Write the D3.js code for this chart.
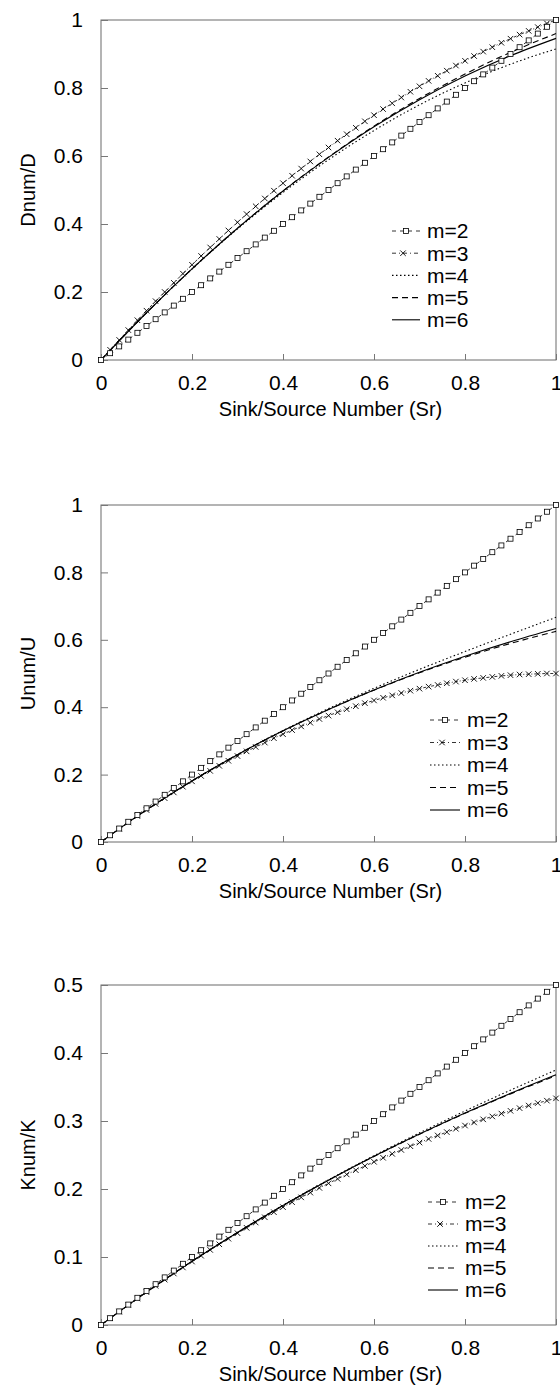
<!DOCTYPE html>
<html><head><meta charset="utf-8">
<script src="https://cdn.jsdelivr.net/npm/d3@7"></script>
<style>
body{margin:0;background:#fff;}
svg{display:block;}
text{font-family:Arial,"Liberation Sans",sans-serif;fill:#000;}
</style>
</head><body>
<svg id="c" width="560" height="1394"></svg>
<script>
// ---------- DATA ----------
const srMarkers = [0,0.02,0.04,0.06,0.08,0.10,0.12,0.14,0.16,0.18,0.20,0.22,0.24,0.26,0.28,0.30,0.32,0.34,0.36,0.38,0.40,0.42,0.44,0.46,0.48,0.50,0.52,0.54,0.56,0.58,0.60,0.62,0.64,0.66,0.68,0.70,0.72,0.74,0.76,0.78,0.80,0.82,0.84,0.86,0.88,0.90,0.92,0.94,0.96,0.98,1.00];
const srLines = [0,0.1,0.2,0.3,0.4,0.5,0.6,0.7,0.8,0.9,1.0];
const seriesNames = ["m=2","m=3","m=4","m=5","m=6"];

// Dnum/D
const dM2 = [0,0.02,0.04,0.06,0.08,0.10,0.12,0.14,0.16,0.18,0.20,0.22,0.24,0.26,0.28,0.30,0.32,0.34,0.36,0.38,0.40,0.42,0.44,0.46,0.48,0.50,0.52,0.54,0.56,0.58,0.60,0.62,0.64,0.66,0.68,0.70,0.72,0.74,0.76,0.78,0.80,0.82,0.84,0.86,0.88,0.90,0.92,0.94,0.96,0.98,1.00];
const dM3 = [0,0.030,0.059,0.088,0.117,0.145,0.173,0.200,0.227,0.254,0.280,0.306,0.331,0.356,0.381,0.405,0.429,0.452,0.475,0.498,0.520,0.542,0.563,0.584,0.605,0.625,0.645,0.664,0.683,0.702,0.720,0.738,0.755,0.772,0.789,0.805,0.821,0.836,0.851,0.866,0.880,0.894,0.907,0.920,0.933,0.945,0.957,0.968,0.979,0.990,1.000];
const dM4 = [0,0.139,0.2675,0.3855,0.4928,0.589,0.675,0.7505,0.815,0.870,0.915];
const dM5 = [0,0.139,0.268,0.3876,0.4974,0.5969,0.6879,0.7691,0.8411,0.9048,0.960];
const dM6 = [0,0.139,0.268,0.3875,0.497,0.596,0.686,0.7655,0.835,0.895,0.946];

// Unum/U
const uM2 = [0,0.02,0.04,0.06,0.08,0.10,0.12,0.14,0.16,0.18,0.20,0.22,0.24,0.26,0.28,0.30,0.32,0.34,0.36,0.38,0.40,0.42,0.44,0.46,0.48,0.50,0.52,0.54,0.56,0.58,0.60,0.62,0.64,0.66,0.68,0.70,0.72,0.74,0.76,0.78,0.80,0.82,0.84,0.86,0.88,0.90,0.92,0.94,0.96,0.98,1.00];
const uM3 = [0,0.020,0.039,0.058,0.077,0.095,0.113,0.130,0.147,0.164,0.180,0.196,0.211,0.226,0.241,0.255,0.269,0.282,0.295,0.308,0.320,0.332,0.343,0.354,0.365,0.375,0.385,0.394,0.403,0.412,0.420,0.428,0.435,0.442,0.449,0.455,0.461,0.466,0.471,0.476,0.480,0.484,0.487,0.490,0.493,0.495,0.497,0.498,0.499,0.500,0.500];
const uM4 = [0,0.0952,0.1813,0.2595,0.3307,0.3958,0.456,0.5122,0.5653,0.6165,0.6667];
const uM5 = [0,0.0952,0.1813,0.2592,0.3297,0.3932,0.4506,0.5022,0.5483,0.5892,0.625];
const uM6 = [0,0.0952,0.1813,0.2592,0.3298,0.3935,0.4512,0.5036,0.5510,0.5941,0.6333];

// Knum/K
const kM2 = [0,0.01,0.02,0.03,0.04,0.05,0.06,0.07,0.08,0.09,0.10,0.11,0.12,0.13,0.14,0.15,0.16,0.17,0.18,0.19,0.20,0.21,0.22,0.23,0.24,0.25,0.26,0.27,0.28,0.29,0.30,0.31,0.32,0.33,0.34,0.35,0.36,0.37,0.38,0.39,0.40,0.41,0.42,0.43,0.44,0.45,0.46,0.47,0.48,0.49,0.50];
const kM3 = [0,0.0099,0.0197,0.0294,0.0389,0.0483,0.0576,0.0667,0.0757,0.0846,0.0933,0.1019,0.1104,0.1187,0.1269,0.1350,0.1429,0.1507,0.1584,0.1659,0.1733,0.1806,0.1877,0.1947,0.2016,0.2083,0.2149,0.2214,0.2277,0.2339,0.2400,0.2459,0.2517,0.2574,0.2629,0.2683,0.2736,0.2787,0.2837,0.2886,0.2933,0.2979,0.3024,0.3067,0.3109,0.3150,0.3189,0.3227,0.3264,0.3299,0.3333];
const kM4 = [0,0.0484,0.0937,0.1361,0.1760,0.2135,0.2490,0.2826,0.3147,0.3454,0.3750];
const kM5 = [0,0.0484,0.0937,0.1361,0.1758,0.2130,0.2479,0.2806,0.3113,0.3399,0.3667];
const kM6 = [0,0.0484,0.0937,0.1361,0.1758,0.2130,0.2480,0.2808,0.3118,0.3407,0.3681];

const xTicks = [0,0.2,0.4,0.6,0.8,1];
const dTicks = [0,0.2,0.4,0.6,0.8,1];
const uTicks = [0,0.2,0.4,0.6,0.8,1];
const kTicks = [0,0.1,0.2,0.3,0.4,0.5];
const xTitle = "Sink/Source Number (Sr)";

// ---------- DRAWING ----------
const svg = d3.select("#c");
const FONT = 21;
const TFONT = 20;

const panels = [
  {title:"Dnum/D", yMax:1, yTicks:dTicks, top:20, bottom:360, m2:dM2, m3:dM3, m4:dM4, m5:dM5, m6:dM6,
   leg:{y:231, dy:22.2, x0:392, x1:420, tx:427}},
  {title:"Unum/U", yMax:1, yTicks:uTicks, top:505, bottom:842, m2:uM2, m3:uM3, m4:uM4, m5:uM5, m6:uM6,
   leg:{y:720, dy:22.5, x0:430, x1:460, tx:467}},
  {title:"Knum/K", yMax:0.5, yTicks:kTicks, top:985, bottom:1325, m2:kM2, m3:kM3, m4:kM4, m5:kM5, m6:kM6,
   leg:{y:1202, dy:22, x0:428, x1:458, tx:465}}
];
const L = 101, R = 556;

function drawSquare(g, x, y, s){
  g.append("rect").attr("x", x - s/2).attr("y", y - s/2).attr("width", s).attr("height", s)
   .attr("fill","#fff").attr("stroke","#000").attr("stroke-width",0.8);
}
function drawCross(g, x, y, s){
  g.append("path").attr("d", `M${x-s/2},${y-s/2}L${x+s/2},${y+s/2}M${x-s/2},${y+s/2}L${x+s/2},${y-s/2}`)
   .attr("stroke","#000").attr("stroke-width",0.9).attr("fill","none");
}

const styles = {
  m4: {dash:"1.5,2.5", w:1.1},
  m5: {dash:"6,4", w:1.1},
  m6: {dash:null, w:1.1}
};

panels.forEach(p => {
  const x = d3.scaleLinear().domain([0,1]).range([L,R]);
  const y = d3.scaleLinear().domain([0,p.yMax]).range([p.bottom,p.top]);
  const g = svg.append("g");

  // frame
  g.append("rect").attr("x",L).attr("y",p.top).attr("width",R-L).attr("height",p.bottom-p.top)
    .attr("fill","none").attr("stroke","#6a6a6a").attr("stroke-width",1);

  // y axis (ticks inside)
  const yAxis = d3.axisLeft(y).tickValues(p.yTicks).tickSize(-7).tickPadding(18).tickFormat(d3.format(""));
  const ya = g.append("g").attr("transform",`translate(${L},0)`).call(yAxis);
  ya.select(".domain").remove();
  ya.selectAll("line").attr("stroke","#777");
  ya.selectAll("text").style("font-size",FONT+"px").attr("font-family","Arial, 'Liberation Sans', sans-serif").attr("fill","#000");

  // x axis (ticks inside)
  const xAxis = d3.axisBottom(x).tickValues(xTicks).tickSize(-6).tickPadding(15).tickFormat(d3.format(""));
  const xa = g.append("g").attr("transform",`translate(0,${p.bottom})`).call(xAxis);
  xa.select(".domain").remove();
  xa.selectAll("line").attr("stroke","#777");
  xa.selectAll("text").style("font-size",FONT+"px").attr("font-family","Arial, 'Liberation Sans', sans-serif").attr("fill","#000");

  // titles
  g.append("text").attr("x",(L+R)/2 + 2).attr("y",p.bottom+56).attr("text-anchor","middle")
    .style("font-size",TFONT+"px").text(xTitle);
  g.append("text").attr("transform",`translate(35,${(p.top+p.bottom)/2}) rotate(-90)`)
    .attr("text-anchor","middle").style("font-size",TFONT+"px").text(p.title);

  // smooth lines m4..m6
  const line = d3.line().x((d,i)=>x(srLines[i])).y(d=>y(d)).curve(d3.curveMonotoneX);
  ["m4","m5","m6"].forEach(k => {
    g.append("path").attr("d", line(p[k])).attr("fill","none").attr("stroke","#000")
      .attr("stroke-width",styles[k].w).attr("stroke-dasharray",styles[k].dash);
  });

  // marker series
  const mline = d3.line().x((d,i)=>x(srMarkers[i])).y(d=>y(d));
  g.append("path").attr("d", mline(p.m3)).attr("fill","none").attr("stroke","#000")
    .attr("stroke-width",0.8).attr("stroke-dasharray","3,2,1,2");
  g.append("path").attr("d", mline(p.m2)).attr("fill","none").attr("stroke","#000")
    .attr("stroke-width",0.8).attr("stroke-dasharray","3,3");
  p.m3.forEach((v,i) => drawCross(g, x(srMarkers[i]), y(v), 5.5));
  p.m2.forEach((v,i) => drawSquare(g, x(srMarkers[i]), y(v), 5));

  // legend
  const lg = p.leg;
  seriesNames.forEach((name,i) => {
    const yy = lg.y + i*lg.dy;
    const mid = (lg.x0+lg.x1)/2;
    if (i===0){
      g.append("line").attr("x1",lg.x0).attr("x2",lg.x1).attr("y1",yy).attr("y2",yy)
        .attr("stroke","#000").attr("stroke-width",0.8).attr("stroke-dasharray","4,4");
      drawSquare(g, mid, yy, 5);
    } else if (i===1){
      g.append("line").attr("x1",lg.x0).attr("x2",lg.x1).attr("y1",yy).attr("y2",yy)
        .attr("stroke","#000").attr("stroke-width",0.8).attr("stroke-dasharray","4,3,1,3");
      drawCross(g, mid-3, yy, 5.5);
    } else {
      const k = ["m4","m5","m6"][i-2];
      g.append("line").attr("x1",lg.x0).attr("x2",lg.x1).attr("y1",yy).attr("y2",yy)
        .attr("stroke","#000").attr("stroke-width",styles[k].w).attr("stroke-dasharray",styles[k].dash);
    }
    g.append("text").attr("x",lg.tx).attr("y",yy).attr("dy","0.35em")
      .style("font-size",FONT+"px").text(name);
  });
});
</script>
</body></html>
